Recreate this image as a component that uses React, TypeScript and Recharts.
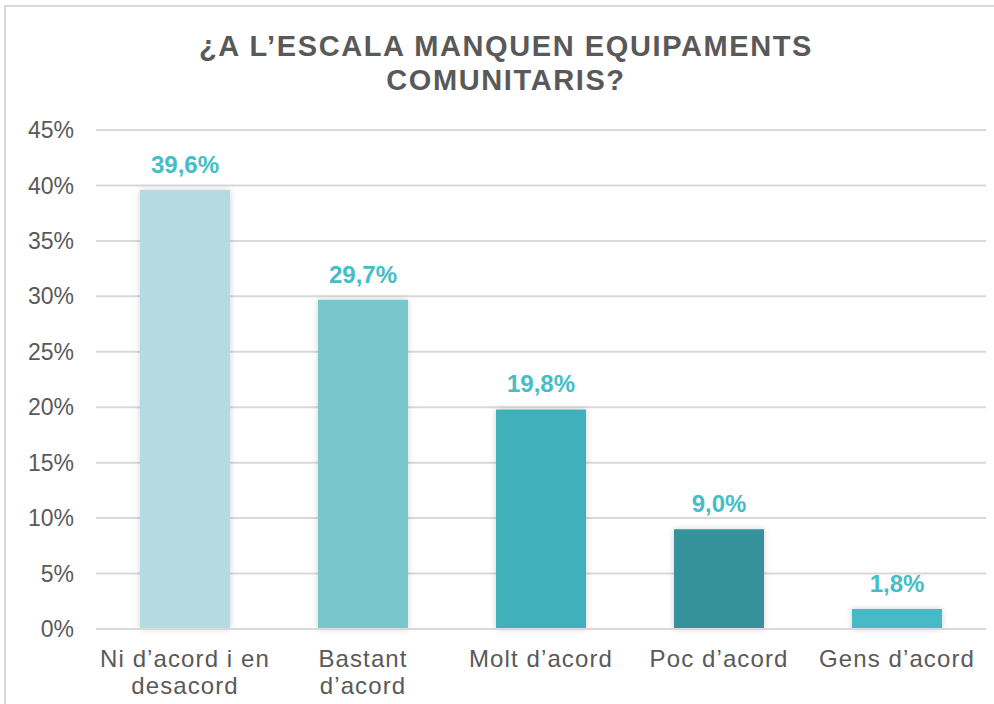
import React from "react";
import { BarChart, Bar, XAxis, YAxis, CartesianGrid, Cell, LabelList } from "recharts";

const categories = ["Ni d’acord i en desacord", "Bastant d’acord", "Molt d’acord", "Poc d’acord", "Gens d’acord"];
const categoryLines = [["Ni d’acord i en", "desacord"], ["Bastant", "d’acord"], ["Molt d’acord"], ["Poc d’acord"], ["Gens d’acord"]];
const values = [39.6, 29.7, 19.8, 9.0, 1.8];
const barColors = ["#B4DBE0", "#7AC6CD", "#40B1BA", "#36919A", "#46BAC6"];
const yTicks = [0, 5, 10, 15, 20, 25, 30, 35, 40, 45];

const FONT = "'Liberation Sans', Arial, sans-serif";
const TEXT = "#595959";

const data = categories.map((name, i) => ({ name, value: values[i], idx: i }));

function CategoryTick(props: any) {
  const { x, y, payload } = props;
  const lines = categoryLines[payload.index] || [payload.value];
  return (
    <text x={x} y={y} textAnchor="middle" fill={TEXT} fontSize={24} letterSpacing={1.1} fontFamily={FONT}>
      {lines.map((l: string, i: number) => (
        <tspan key={i} x={x} dy={i === 0 ? 36 : 27}>{l}</tspan>
      ))}
    </text>
  );
}

export default function App() {
  return (
    <div style={{ position: "absolute", left: 0, top: 0, width: 994, height: 704, background: "#fff", fontFamily: FONT, overflow: "hidden" }}>
      <div style={{ position: "absolute", left: 0, top: 29, width: 1012, textAlign: "center", fontSize: 29, lineHeight: "34px", fontWeight: "bold", letterSpacing: 1.6, color: TEXT }}>
        ¿A L’ESCALA MANQUEN EQUIPAMENTS<br />COMUNITARIS?
      </div>
      <div style={{ position: "absolute", left: 0, top: 0 }}>
        <BarChart width={994} height={704} data={data} margin={{ top: 130, right: 8, bottom: 0, left: 0 }}>
          <defs>
            <filter id="barShadow" x="-20%" y="-20%" width="140%" height="140%">
              <feDropShadow dx="0" dy="0" stdDeviation="3" floodColor="#000" floodOpacity="0.18" />
            </filter>
          </defs>
          <CartesianGrid vertical={false} stroke="#D9D9D9" strokeWidth={2} />
          <XAxis dataKey="name" axisLine={{ stroke: "#D9D9D9", strokeWidth: 2 }} tickLine={false} tickSize={0} height={75} interval={0} tick={<CategoryTick />} />
          <YAxis domain={[0, 45]} ticks={yTicks} width={96} axisLine={false} tickLine={false} tickSize={0} tickMargin={22}
            tickFormatter={(v: number) => `${v}%`} tick={{ fill: TEXT, fontSize: 23, fontFamily: FONT }} />
          <Bar dataKey="value" barSize={90} isAnimationActive={false} filter="url(#barShadow)">
            {data.map((d) => (
              <Cell key={d.name} fill={barColors[d.idx]} />
            ))}
            <LabelList dataKey="value" position="top" offset={17} fill="#46BDC6" fontSize={24} fontWeight="bold" fontFamily={FONT}
              formatter={(v: any) => `${Number(v).toFixed(1).replace(".", ",")}%`} />
          </Bar>
        </BarChart>
      </div>
      <div style={{ position: "absolute", left: 4, top: 5, width: 1000, height: 710, borderTop: "2px solid #D9D9D9", borderLeft: "2px solid #D9D9D9", pointerEvents: "none" }} />
    </div>
  );
}
